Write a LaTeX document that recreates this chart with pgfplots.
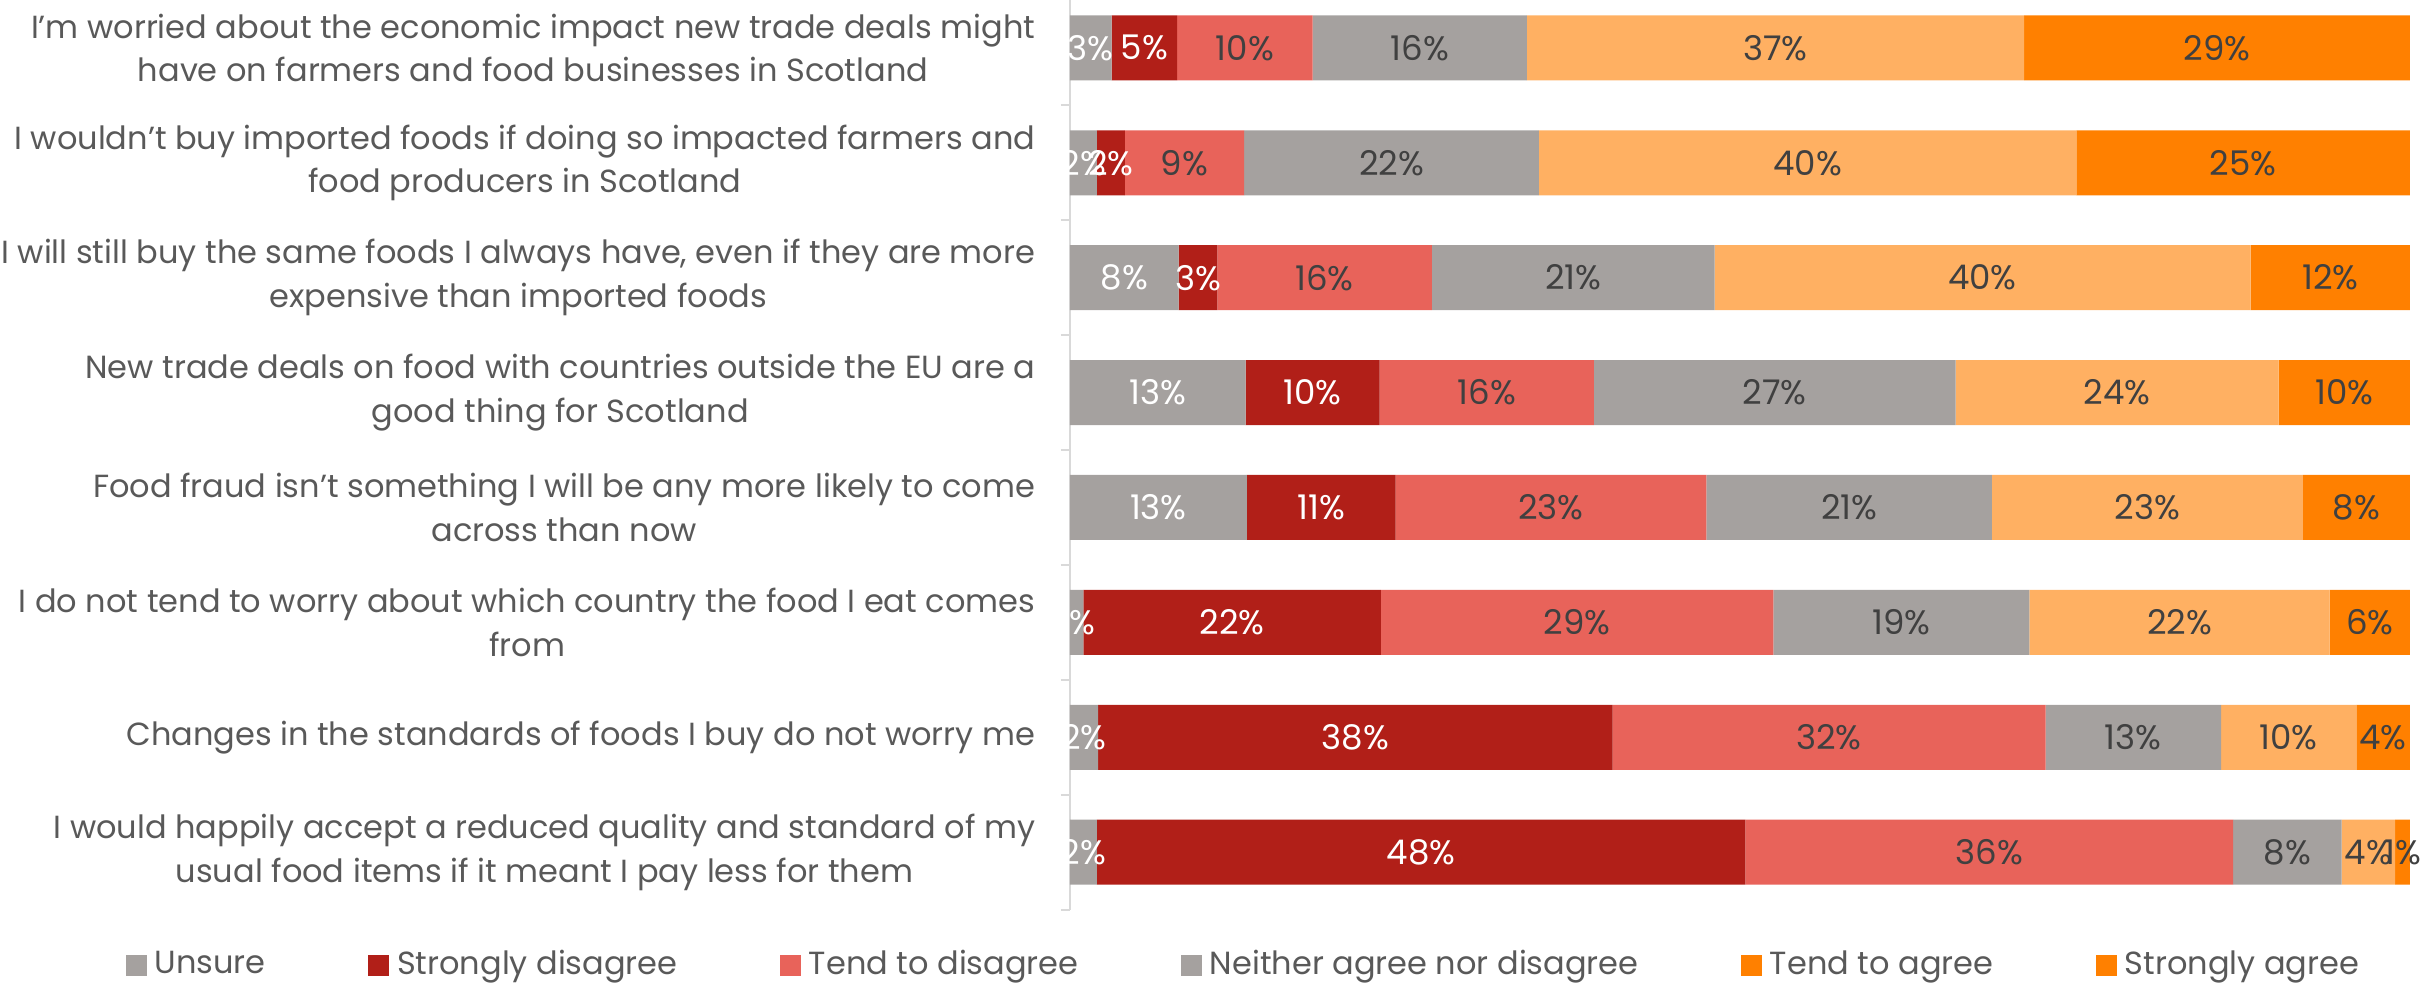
\documentclass[border=0pt]{standalone}
\usepackage{pgfplots}
\pgfplotsset{compat=1.18}
\usepackage{pgfplotstable}
\usepackage{fontspec}
\setmainfont{Poppins}
\definecolor{cUns}{HTML}{A5A19F}
\definecolor{cSD}{HTML}{B11F18}
\definecolor{cTD}{HTML}{E8635A}
\definecolor{cNei}{HTML}{A5A19F}
\definecolor{cTA}{HTML}{FFB062}
\definecolor{cSA}{HTML}{FF8000}
\definecolor{txt}{HTML}{595959}
\definecolor{lbl}{HTML}{404040}
\definecolor{axl}{HTML}{D9D9D9}
\pgfplotstableread{
idx uns sd td nei ta sa
1 3.1 4.9 10.1 16.0 37.1 28.8
2 2.0 2.1 8.9 22.0 40.1 24.9
3 8.1 2.9 16.0 21.1 40.0 11.9
4 13.1 10.0 16.0 27.0 24.1 9.8
5 13.2 11.1 23.2 21.3 23.2 8.0
6 1.0 22.2 29.3 19.1 22.4 6.0
7 2.1 38.4 32.3 13.1 10.1 4.0
8 2.0 48.4 36.4 8.1 4.0 1.1
}\data
\pgfplotsset{
  seg/.style n args={2}{fill=#1, draw=none, forget plot,
     nodes near coords={\pgfmathprintnumber[fixed,precision=0,assume math mode=true]{\pgfplotspointmeta}\%},
     every node near coord/.append style={text=#2, anchor=center, inner sep=0pt,
        font=\fontsize{8.5}{10}\selectfont},
  },
}
\begin{document}
\begin{tikzpicture}
\path[use as bounding box] (-267.5pt,-20.1pt) rectangle (341.25pt,227.4pt);
\begin{axis}[
  at={(0,0)}, anchor=south west,
  scale only axis, width=335pt, height=227.4pt,
  xbar stacked, bar width=16.25pt,
  xmin=0, xmax=100, ymin=0.5833, ymax=8.5, y dir=reverse,
  axis x line=none, axis y line*=left,
  y axis line style={draw=axl, line width=0.5pt},
  clip=false,
  point meta=explicit,
  ytick={1,...,8},
  minor ytick={1.5,2.5,...,8.5},
  tick align=outside,
  major tick length=0pt,
  minor tick length=2.3pt,
  minor tick style={draw=axl, line width=0.5pt},
  yticklabel style={align=center, text=txt, inner sep=0pt, xshift=-8.5pt,
     font=\fontsize{8}{10.9}\selectfont},
  yticklabels={
    {I’m worried about the economic impact new trade deals might\\have on farmers and food businesses in Scotland},
    {I wouldn’t buy imported foods if doing so impacted farmers and\\food producers in Scotland},
    {I will still buy the same foods I always have, even if they are more\\expensive than imported foods},
    {New trade deals on food with countries outside the EU are a\\good thing for Scotland},
    {Food fraud isn’t something I will be any more likely to come\\across than now},
    {I do not tend to worry about which country the food I eat comes\\from},
    {Changes in the standards of foods I buy do not worry me},
    {I would happily accept a reduced quality and standard of my\\usual food items if it meant I pay less for them}
  },
  legend style={draw=none, fill=none, at={(0.1316,-0.0616)}, anchor=center,
     legend columns=6, font=\fontsize{8}{9.6}\selectfont, text=txt,
     /tikz/every odd column/.append style={column sep=0pt},
     /tikz/every even column/.append style={column sep=23.6pt}},
  legend image code/.code={\fill[#1] (0pt,-2.6pt) rectangle (5.25pt,2.6pt);},
]
\addplot[seg={cUns}{white}] table[x=uns, y=idx, meta=uns] {\data};
\addplot[seg={cSD}{white}] table[x=sd, y=idx, meta=sd] {\data};
\addplot[seg={cTD}{lbl}] table[x=td, y=idx, meta=td] {\data};
\addplot[seg={cNei}{lbl}] table[x=nei, y=idx, meta=nei] {\data};
\addplot[seg={cTA}{lbl}] table[x=ta, y=idx, meta=ta] {\data};
\addplot[seg={cSA}{lbl}] table[x=sa, y=idx, meta=sa] {\data};
\addlegendimage{fill=cUns, draw=none}\addlegendentry{Unsure}
\addlegendimage{fill=cSD, draw=none}\addlegendentry{Strongly disagree}
\addlegendimage{fill=cTD, draw=none}\addlegendentry{Tend to disagree}
\addlegendimage{fill=cNei, draw=none}\addlegendentry{Neither agree nor disagree}
\addlegendimage{fill=cSA, draw=none}\addlegendentry{Tend to agree}
\addlegendimage{fill=cSA, draw=none}\addlegendentry{Strongly agree}
\end{axis}
\end{tikzpicture}
\end{document}
